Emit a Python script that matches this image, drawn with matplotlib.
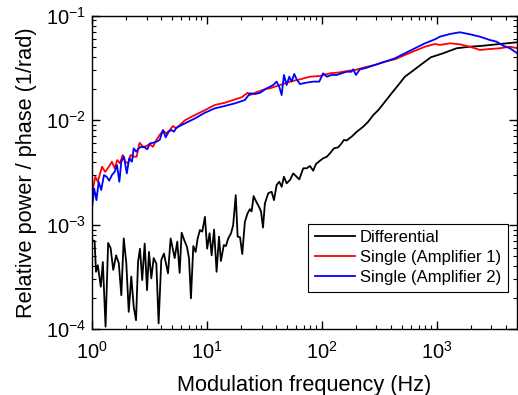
import numpy as np
import matplotlib
matplotlib.use('Agg')
import matplotlib.pyplot as plt

plt.rcParams['font.family'] = ['Liberation Sans', 'DejaVu Sans']
plt.rcParams['mathtext.fontset'] = 'custom'
plt.rcParams['mathtext.rm'] = 'Liberation Sans'

# Differential
diff_f = [1.01, 1.06, 1.09, 1.13, 1.20, 1.25, 1.32, 1.39, 1.46, 1.54, 1.63, 1.72, 1.81, 1.90,
          2.00, 2.10, 2.21, 2.32, 2.43, 2.53, 2.63, 2.75, 2.89, 3.03, 3.15, 3.30, 3.46, 3.65,
          3.82, 4.03, 4.25, 4.61, 4.86, 5.27, 5.55, 5.82, 6.06, 6.39, 6.74, 7.02, 7.30, 7.65,
          8.02, 8.35, 8.74, 9.16, 9.66, 10.1, 10.6, 11.05, 11.6, 12.2, 12.8, 13.3, 14.1, 14.7,
          15.4, 16.3, 17.0, 17.9, 18.6, 19.5, 20.4, 21.5, 22.7, 23.8, 24.6, 25.6, 27.0, 28.5,
          29.7, 30.9, 32.1, 34.3, 36.7, 38.5, 40.6, 42.8, 44.9, 47.0, 49.6, 53.0, 56.6, 60.6,
          63.9, 69.2, 74.1, 79.1, 84.5, 89.2, 96.7, 103, 111, 118, 128, 139, 149, 156, 165, 174,
          182, 202, 230, 254, 281, 311, 355, 406, 464, 530, 606, 692, 791, 891, 1141, 1493,
          1948, 2542, 3325, 4963]
diff_v = [7.1e-4, 7.0e-4, 3.55e-4, 4.1e-4, 2.55e-4, 4.4e-4, 1.06e-4, 6.7e-4, 6.0e-4, 3.7e-4,
          5.1e-4, 4.3e-4, 2.12e-4, 7.4e-4, 4.3e-4, 1.47e-4, 3.2e-4, 1.64e-4, 1.22e-4, 4.4e-4,
          5.9e-4, 2.96e-4, 6.6e-4, 2.37e-4, 5.5e-4, 3.07e-4, 4.8e-4, 4.25e-4, 1.14e-4, 4.6e-4,
          5.3e-4, 3.43e-4, 7.4e-4, 4.8e-4, 6.9e-4, 3.47e-4, 8.4e-4, 7.1e-4, 6.15e-4, 4.8e-4,
          1.98e-4, 6.25e-4, 5.5e-4, 7.4e-4, 8.9e-4, 8.6e-4, 1.19e-3, 5.9e-4, 8.3e-4, 5.1e-4,
          9.0e-4, 3.55e-4, 7.7e-4, 4.5e-4, 6.4e-4, 6.25e-4, 7.4e-4, 8.3e-4, 9.9e-4, 1.92e-3,
          7.7e-4, 7.6e-4, 5.25e-4, 1.07e-3, 1.29e-3, 1.41e-3, 1.34e-3, 1.88e-3, 1.66e-3, 1.49e-3,
          1.34e-3, 9.4e-4, 1.60e-3, 2.0e-3, 2.07e-3, 1.72e-3, 2.40e-3, 2.58e-3, 2.31e-3, 2.88e-3,
          2.49e-3, 2.68e-3, 3.10e-3, 2.88e-3, 2.72e-3, 3.47e-3, 3.47e-3, 3.65e-3, 3.29e-3,
          3.81e-3, 4.10e-3, 4.32e-3, 4.48e-3, 4.82e-3, 5.38e-3, 5.5e-3, 6.0e-3, 6.47e-3, 6.4e-3,
          6.7e-3, 6.95e-3, 7.76e-3, 8.67e-3, 9.68e-3, 1.12e-2, 1.25e-2, 1.50e-2, 1.81e-2,
          2.17e-2, 2.61e-2, 2.91e-2, 3.25e-2, 3.63e-2, 4.0e-2, 4.37e-2, 4.88e-2, 5.05e-2,
          5.16e-2, 5.32e-2, 5.56e-2]

# Single (Amplifier 1)
amp1_f = [1.02, 1.075, 1.13, 1.23, 1.31, 1.41, 1.50, 1.585, 1.67, 1.76, 1.86, 1.96, 2.07, 2.18,
          2.30, 2.46, 2.61, 2.79, 2.98, 3.19, 3.41, 3.65, 3.90, 4.17, 4.45, 4.77, 5.09, 5.44,
          6.48, 7.91, 9.66, 11.8, 14.4, 17.6, 20.2, 22.7, 23.8, 26.3, 32.1, 35.5, 43.4, 53.0,
          64.8, 79.1, 96.7, 118, 144, 174, 195, 238, 291, 355, 434, 530, 648, 791, 967, 1069,
          1306, 1594, 1948, 2380, 2907, 3551, 4339, 5023]
amp1_v = [2.15e-3, 2.88e-3, 2.58e-3, 3.59e-3, 3.21e-3, 3.59e-3, 4.01e-3, 3.47e-3, 4.16e-3,
          3.87e-3, 4.65e-3, 4.01e-3, 3.87e-3, 4.65e-3, 4.48e-3, 4.48e-3, 6.09e-3, 5.57e-3,
          5.66e-3, 5.92e-3, 5.57e-3, 6.47e-3, 7.22e-3, 7.94e-3, 7.5e-3, 8.06e-3, 8.8e-3, 8.36e-3,
          1.0e-2, 1.12e-2, 1.25e-2, 1.40e-2, 1.47e-2, 1.58e-2, 1.66e-2, 1.83e-2, 1.74e-2, 1.83e-2,
          1.98e-2, 2.02e-2, 2.17e-2, 2.34e-2, 2.46e-2, 2.61e-2, 2.65e-2, 2.81e-2, 2.87e-2,
          2.98e-2, 3.02e-2, 3.21e-2, 3.38e-2, 3.63e-2, 3.83e-2, 4.21e-2, 4.62e-2, 5.05e-2,
          5.36e-2, 5.25e-2, 5.44e-2, 5.32e-2, 5.05e-2, 4.70e-2, 4.80e-2, 4.88e-2, 5.05e-2, 4.88e-2]

# Single (Amplifier 2)
amp2_f = [1.01, 1.05, 1.10, 1.15, 1.21, 1.28, 1.35, 1.42, 1.50, 1.585, 1.66, 1.74, 1.81, 1.91,
          2.02, 2.12, 2.24, 2.32, 2.44, 2.56, 2.70, 2.89, 3.04, 3.21, 3.43, 3.65, 3.90, 4.17,
          4.40, 4.67, 4.92, 5.20, 5.44, 6.48, 7.91, 9.66, 11.8, 14.4, 17.6, 21.5, 23.8, 26.3,
          29.1, 33.3, 37.9, 40.6, 42.8, 44.9, 47.0, 49.6, 52.3, 54.8, 57.8, 60.6, 64.8, 74.1,
          84.5, 95.3, 103, 111, 122, 135, 149, 165, 182, 188, 199, 215, 238, 291, 355, 434, 530,
          648, 791, 967, 1069, 1306, 1594, 1948, 2380, 2907, 3325, 3795, 4339, 5023]
amp2_v = [1.49e-3, 2.23e-3, 1.72e-3, 2.58e-3, 2.15e-3, 2.99e-3, 2.88e-3, 2.64e-3, 2.99e-3,
          3.21e-3, 3.72e-3, 2.58e-3, 4.01e-3, 4.48e-3, 3.10e-3, 4.32e-3, 4.01e-3, 5.38e-3,
          5.0e-3, 5.38e-3, 5.57e-3, 5.5e-3, 5.27e-3, 6.01e-3, 6.09e-3, 6.23e-3, 6.47e-3, 8.06e-3,
          6.86e-3, 7.76e-3, 8.06e-3, 7.76e-3, 8.48e-3, 9.34e-3, 1.04e-2, 1.18e-2, 1.30e-2,
          1.37e-2, 1.45e-2, 1.56e-2, 1.81e-2, 1.78e-2, 1.83e-2, 2.02e-2, 2.17e-2, 2.34e-2,
          2.09e-2, 1.74e-2, 2.71e-2, 2.17e-2, 2.61e-2, 2.34e-2, 2.77e-2, 2.46e-2, 2.22e-2,
          2.29e-2, 2.34e-2, 2.34e-2, 2.81e-2, 2.61e-2, 2.71e-2, 2.71e-2, 2.81e-2, 2.91e-2,
          2.91e-2, 3.07e-2, 2.71e-2, 3.07e-2, 3.14e-2, 3.38e-2, 3.63e-2, 3.91e-2, 4.37e-2,
          4.88e-2, 5.44e-2, 5.94e-2, 6.30e-2, 6.68e-2, 6.94e-2, 6.64e-2, 6.30e-2, 5.85e-2,
          5.64e-2, 5.16e-2, 4.88e-2, 4.37e-2]

fig = plt.figure(figsize=(5.18, 3.95), dpi=100)
ax = fig.add_axes([0.177, 0.1663, 0.822, 0.794])

ax.plot(diff_f, diff_v, color='black', lw=1.3, label='Differential')
ax.plot(amp1_f, amp1_v, color='#ff0000', lw=1.3, label='Single (Amplifier 1)')
ax.plot(amp2_f, amp2_v, color='#0000ff', lw=1.3, label='Single (Amplifier 2)')

ax.set_xscale('log')
ax.set_yscale('log')
ax.set_xlim(1, 5050)
ax.set_ylim(1e-4, 1e-1)

ax.tick_params(which='both', direction='in', top=True, right=True, labelsize=14.5)
ax.tick_params(which='major', length=6, width=1)
ax.tick_params(which='minor', length=3, width=0.8)
ax.tick_params(axis='x', which='major', pad=8)
ax.tick_params(axis='y', which='major', pad=4)
for s in ax.spines.values():
    s.set_linewidth(1.0)

ax.set_xlabel('Modulation frequency (Hz)', fontsize=15.7, labelpad=9)
ax.set_ylabel('Relative power / phase (1/rad)', fontsize=15.7, labelpad=6)

leg = ax.legend(loc='lower right', bbox_to_anchor=(0.977, 0.119), borderaxespad=0,
                fontsize=12, frameon=True, fancybox=False, edgecolor='black', framealpha=1,
                handlelength=2.4, handletextpad=0.3, labelspacing=0.3, borderpad=0.4)
leg.get_frame().set_linewidth(0.8)

fig.savefig('out.png', dpi=100)
